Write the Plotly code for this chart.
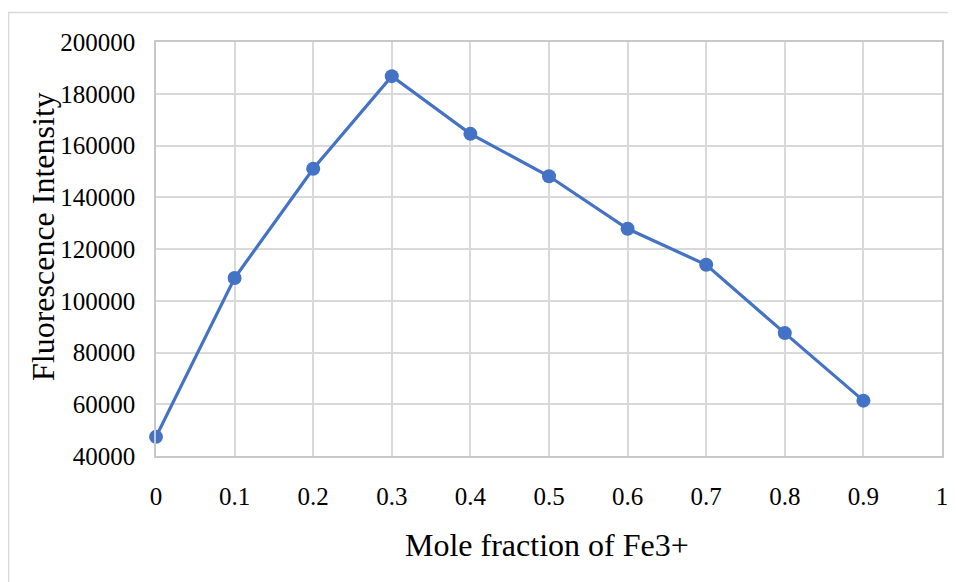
import plotly.graph_objects as go

mole_fraction = [0, 0.1, 0.2, 0.3, 0.4, 0.5, 0.6, 0.7, 0.8, 0.9]
intensity = [47400, 108800, 151000, 186800, 164500, 148100, 127800, 113900, 87500, 61400]

x_tickvals = [0, 0.1, 0.2, 0.3, 0.4, 0.5, 0.6, 0.7, 0.8, 0.9, 1]
x_ticktext = ["0", "0.1", "0.2", "0.3", "0.4", "0.5", "0.6", "0.7", "0.8", "0.9", "1"]
y_tickvals = [40000, 60000, 80000, 100000, 120000, 140000, 160000, 180000, 200000]
y_ticktext = ["40000", "60000", "80000", "100000", "120000", "140000", "160000", "180000", "200000"]

x_title = "Mole fraction of Fe3+"
y_title = "Fluorescence Intensity"

FONT = "Liberation Serif"
GRID = "#d9d9d9"
BLUE = "#4472C4"

# page body has an 8px margin: figure is placed at (8, 8) in the window
OFF = 8
W, H = 956 - OFF, 582 - OFF
L, R, T, B = 156 - OFF, 942 - OFF, 42 - OFF, 456 - OFF


def px(xpix):
    return (xpix - OFF - L) / (R - L)


def py(ypix):
    return (B - (ypix - OFF)) / (B - T)


fig = go.Figure()
fig.add_trace(go.Scatter(
    x=mole_fraction, y=intensity, mode="lines+markers",
    line=dict(color=BLUE, width=3.2),
    marker=dict(color=BLUE, size=14),
    cliponaxis=False, showlegend=False,
))

fig.update_layout(
    width=W, height=H,
    margin=dict(l=L, r=W - R, t=T, b=H - B, autoexpand=False),
    paper_bgcolor="white", plot_bgcolor="white",
    font=dict(family=FONT, color="black", size=25),
    xaxis=dict(
        range=[0, 1], tickvals=x_tickvals, ticktext=x_ticktext,
        showgrid=True, gridcolor=GRID, gridwidth=1.5,
        showline=True, linecolor="#c8c8c8", linewidth=1.5, mirror=True,
        zeroline=False, ticks="", ticklabelstandoff=17,
        tickfont=dict(family=FONT, size=25, color="black"),
    ),
    yaxis=dict(
        range=[40000, 200000], tickvals=y_tickvals, ticktext=y_ticktext,
        showgrid=True, gridcolor=GRID, gridwidth=1.5,
        showline=True, linecolor="#c8c8c8", linewidth=1.5, mirror=True,
        zeroline=False, ticks="", ticklabelstandoff=14,
        tickfont=dict(family=FONT, size=25, color="black"),
    ),
    annotations=[
        dict(text=x_title, xref="paper", yref="paper",
             x=px(547), y=py(545),
             xanchor="center", yanchor="middle", showarrow=False,
             font=dict(family=FONT, size=32, color="black")),
        dict(text=y_title, xref="paper", yref="paper", textangle=-90,
             x=px(42.5), y=py(236.5),
             xanchor="center", yanchor="middle", showarrow=False,
             font=dict(family=FONT, size=32, color="black")),
    ],
    shapes=[
        dict(type="rect", xref="paper", yref="paper",
             x0=px(8.5), x1=px(990), y0=py(620), y1=py(12.5),
             line=dict(color=GRID, width=1.5), layer="below"),
    ],
)

fig.write_html("out.html")
